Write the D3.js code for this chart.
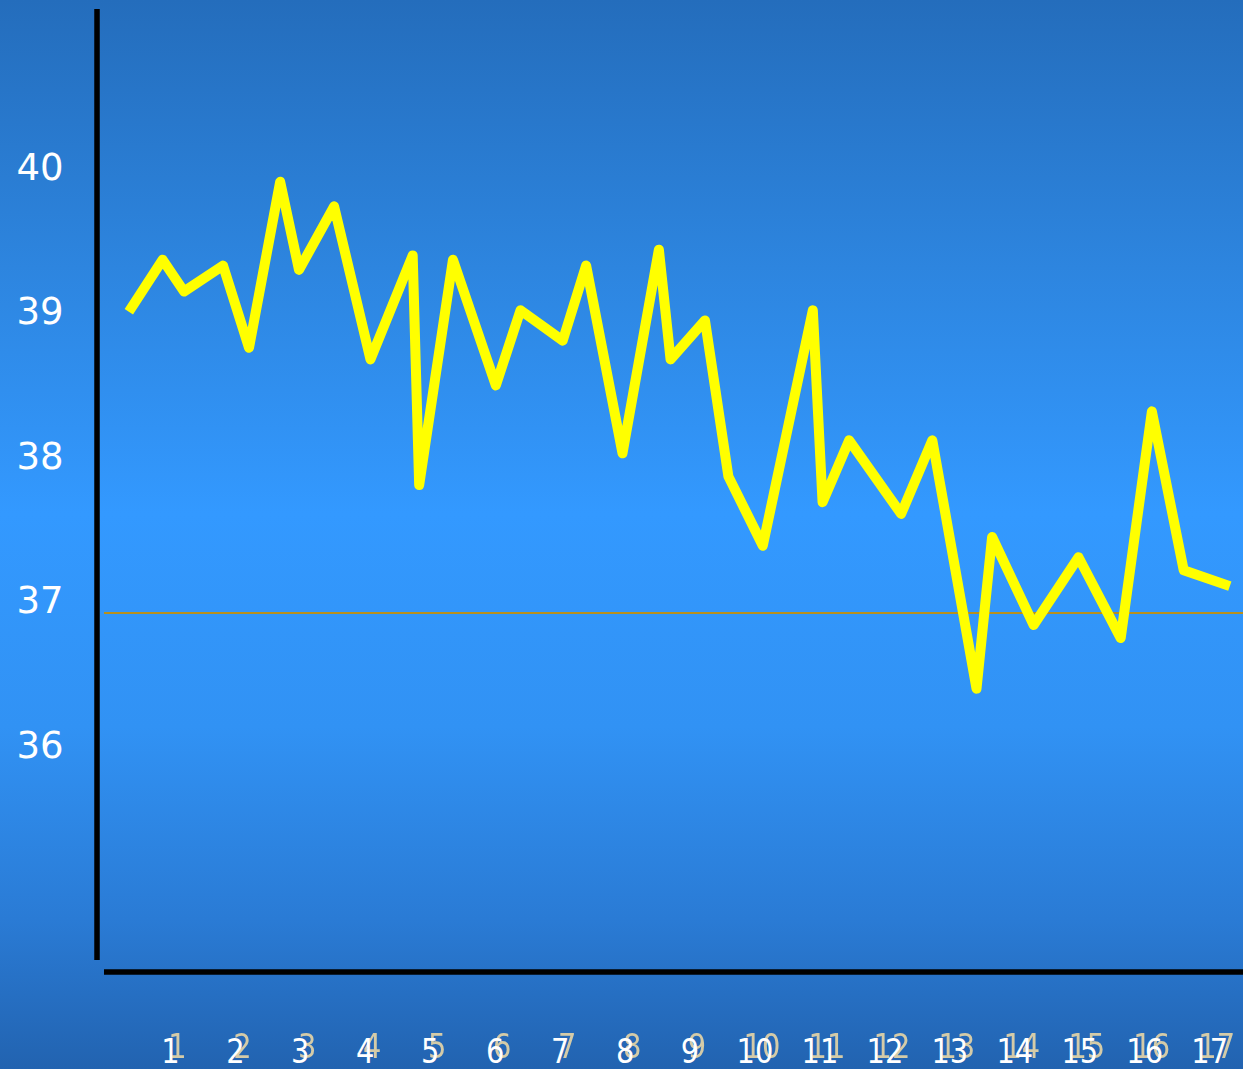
<!DOCTYPE html>
<html>
<head>
<meta charset="utf-8">
<script src="https://cdn.jsdelivr.net/npm/d3@7"></script>
<style>
  html, body { margin: 0; padding: 0; overflow: hidden; background: #2a75c6; }
  svg { display: block; }
</style>
</head>
<body>
<svg id="chart" width="1243" height="1069"></svg>
<script>
// Body temperature readings: day of stay (fractional, readings were taken at irregular times) and °C
const readingDays = [0.36, 0.88, 1.21, 1.81, 2.21, 2.69, 2.98, 3.52, 4.08, 4.73, 4.83, 5.35,
  6.01, 6.39, 7.04, 7.40, 7.96, 8.52, 8.70, 9.23, 9.59, 10.12, 10.89, 11.04, 11.45, 12.25,
  12.73, 13.41, 13.65, 14.29, 14.98, 15.63, 16.11, 16.60, 17.31];
const temperatures = [38.99, 39.35, 39.13, 39.31, 38.74, 39.89, 39.28, 39.72, 38.66, 39.38, 37.79, 39.35,
  38.48, 39.00, 38.79, 39.31, 38.01, 39.42, 38.66, 38.93, 37.85, 37.37, 39.00, 37.67, 38.10, 37.59,
  38.10, 36.38, 37.43, 36.82, 37.29, 36.73, 38.30, 37.20, 37.09];
const dayTicks = [1, 2, 3, 4, 5, 6, 7, 8, 9, 10, 11, 12, 13, 14, 15, 16, 17];
const tempTicks = [40, 39, 38, 37, 36];
const normalTemp = 36.9;

const W = 1243, H = 1069;
const svg = d3.select("#chart");

// Background: vertical blue gradient, brightest in the middle
const defs = svg.append("defs");
const grad = defs.append("linearGradient")
  .attr("id", "bg").attr("x1", 0).attr("y1", 0).attr("x2", 0).attr("y2", 1);
[["0%", "#246dbc"], ["25%", "#2d85df"], ["48%", "#3399ff"], ["68%", "#3192f4"],
 ["86%", "#2a7bd5"], ["100%", "#2263b0"]].forEach(([o, c]) =>
  grad.append("stop").attr("offset", o).attr("stop-color", c));
svg.append("rect").attr("width", W).attr("height", H).attr("fill", "url(#bg)");

const soft = defs.append("filter").attr("id", "soft")
  .attr("x", "-20%").attr("y", "-20%").attr("width", "140%").attr("height", "140%");
soft.append("feGaussianBlur").attr("stdDeviation", 0.6);

// Scales
const x = d3.scaleLinear().domain([1, 17]).range([170.4, 1209.7]);
const y = d3.scaleLinear().domain([36, 40]).range([743.5, 165.9]);

const plotLeft = 104, plotRight = W;

// Normal temperature reference line
svg.append("line")
  .attr("x1", plotLeft).attr("x2", plotRight)
  .attr("y1", Math.round(y(normalTemp)) - 1).attr("y2", Math.round(y(normalTemp)) - 1)
  .attr("stroke", "#b8901c").attr("stroke-width", 2)
  .attr("shape-rendering", "crispEdges");

// Temperature curve
const line = d3.line()
  .x((d, i) => x(readingDays[i]))
  .y(d => y(d));
svg.append("path")
  .datum(temperatures)
  .attr("d", line)
  .attr("fill", "none")
  .attr("stroke", "#ffff00")
  .attr("stroke-width", 10)
  .attr("stroke-linejoin", "round")
  .attr("stroke-linecap", "butt");

// Axis lines
svg.append("line")
  .attr("x1", 97).attr("x2", 97).attr("y1", 9).attr("y2", 960)
  .attr("stroke", "#000").attr("stroke-width", 5.5);
svg.append("line")
  .attr("x1", plotLeft).attr("x2", plotRight).attr("y1", 972).attr("y2", 972)
  .attr("stroke", "#000").attr("stroke-width", 5.5);

// Temperature labels
svg.append("g").selectAll("text")
  .data(tempTicks).join("text")
  .attr("x", 40)
  .attr("y", d => y(d) + 14)
  .attr("text-anchor", "middle")
  .attr("font-family", "'DejaVu Sans', Verdana, sans-serif")
  .attr("font-size", 37)
  .attr("fill", "#ffffff")
  .text(d => d);

// Day labels: narrow digits with a pale offset copy behind the white text
const dayG = svg.append("g")
  .attr("font-family", "'DejaVu Sans', sans-serif")
  .attr("font-size", 34)
  .attr("text-anchor", "middle");
dayG.selectAll("text.shade")
  .data(dayTicks).join("text")
  .attr("class", "shade")
  .attr("transform", d => `translate(${x(d) + 7},1058) scale(0.85,1)`)
  .attr("fill", "#d4cba8")
  .attr("filter", "url(#soft)")
  .text(d => d);
dayG.selectAll("text.main")
  .data(dayTicks).join("text")
  .attr("class", "main")
  .attr("transform", d => `translate(${x(d)},1063) scale(0.85,1)`)
  .attr("fill", "#ffffff")
  .text(d => d);
</script>
</body>
</html>
